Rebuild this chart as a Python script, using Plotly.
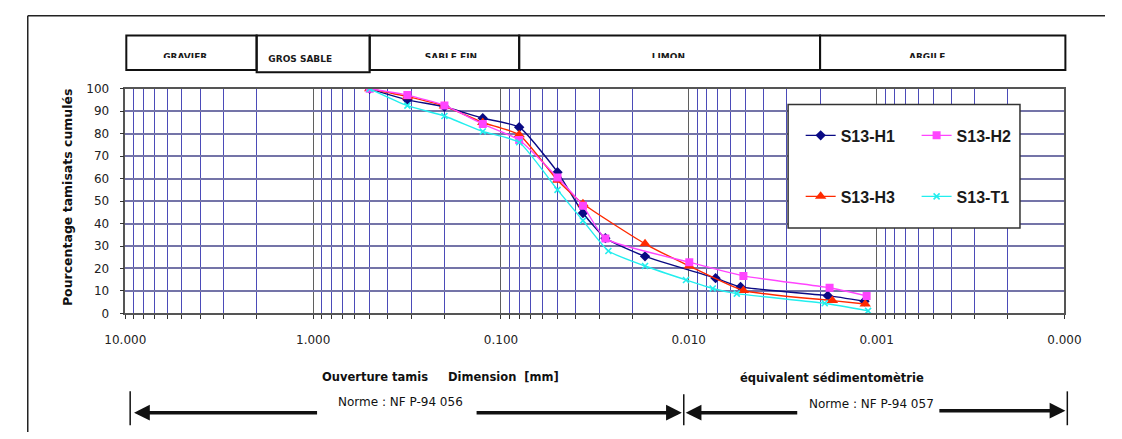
import math
import plotly.graph_objects as go

W, H = 1122, 439

# ---------------- data ----------------
series_names = ["S13-H1", "S13-H2", "S13-H3", "S13-T1"]

h1_x = [0.5, 0.315, 0.2, 0.125, 0.08, 0.05, 0.0366, 0.0278, 0.0171, 0.0072, 0.0053, 0.00182, 0.00116]
h1_y = [100, 95.1, 92.0, 86.9, 82.9, 62.9, 44.7, 33.5, 25.4, 15.7, 11.8, 7.9, 5.4]

h2_x = [0.5, 0.315, 0.2, 0.125, 0.08, 0.05, 0.0366, 0.0278, 0.00994, 0.00512, 0.00178, 0.00113]
h2_y = [100, 97.2, 92.6, 84.3, 77.2, 60.5, 47.9, 33.3, 22.8, 16.7, 11.4, 7.8]

h3_x = [0.5, 0.315, 0.2, 0.125, 0.08, 0.05, 0.0366, 0.0171, 0.00994, 0.00512, 0.00172, 0.00115]
h3_y = [100, 96.5, 92.3, 85.0, 79.6, 59.3, 48.8, 31.0, 21.1, 10.2, 5.7, 4.2]

t1_x = [0.5, 0.315, 0.2, 0.125, 0.08, 0.05, 0.0366, 0.0268, 0.0171, 0.01035, 0.00746, 0.00555, 0.00189, 0.00111]
t1_y = [100, 92.5, 87.9, 81.0, 76.2, 55.0, 41.3, 27.8, 21.1, 14.9, 11.1, 8.8, 4.5, 1.1]

decade_ticks = [10, 1, 0.1, 0.01, 0.001, 0.0001]
decade_labels = ["10.000", "1.000", "0.100", "0.010", "0.001", "0.000"]
y_ticks = list(range(0, 101, 10))

zone_names = ["GRAVIER", "GROS SABLE", "SABLE FIN", "LIMON", "ARGILE"]
zone_bounds = [10, 2, 0.5, 0.08, 0.002, 0.0001]

y_title = "Pourcentage tamisats cumulés"
x_title_left = "Ouverture tamis"
x_title_mid = "Dimension  [mm]"
x_title_right = "équivalent sédimentomètrie"
norm_left = "Norme : NF P-94 056"
norm_right = "Norme : NF P-94 057"

# ---------------- geometry (pixels) ----------------
PX0, PX1 = 108, 1080      # plot area left/right
PY0, PY1 = 84.5, 316.5    # plot area top/bottom


def px(v):
    return PX0 + (1 - math.log10(v)) * (PX1 - PX0) / 5.0


minor_vals = []
for e in range(1, -5, -1):
    for m in range(2, 10):
        v = m * 10 ** (e - 1)
        if 0.0001 < v < 10:
            minor_vals.append(v)

LABEL_FONT = "DejaVu Sans"

fig = go.Figure()

styles = [
    dict(color="#0a0a84", symbol="diamond", size=8, lw=1.4),
    dict(color="#ff44ff", symbol="square", size=8, lw=1.4),
    dict(color="#ff2a00", symbol="triangle-up", size=10, lw=1.4),
    dict(color="#22eeee", symbol="x-thin", size=6, lw=1.4),
]
data = [(h1_x, h1_y), (h2_x, h2_y), (h3_x, h3_y), (t1_x, t1_y)]
legend_ids = ["legend", "legend2", "legend3", "legend4"]
order = [0, 2, 1, 3]
for i in order:
    st = styles[i]
    xs, ys = data[i]
    marker = dict(color=st["color"], symbol=st["symbol"], size=st["size"])
    if st["symbol"] == "x-thin":
        marker["line"] = dict(color=st["color"], width=1.6)
    fig.add_trace(go.Scatter(
        x=xs, y=ys, name=series_names[i], mode="lines+markers",
        line=dict(color=st["color"], width=st["lw"], shape="spline", smoothing=0.5),
        marker=marker, legend=legend_ids[i], hoverinfo="skip",
    ))

# clipped zone labels as text marks in pixel space
zone_label_x = [170, 289, 445, 670, 938]
zone_label_y = [52.5, 54.7, 52.5, 52.5, 52.5]
fig.add_trace(go.Scatter(
    x=zone_label_x, y=zone_label_y, text=zone_names, mode="text",
    textposition="middle center", xaxis="x2", yaxis="y2",
    textfont=dict(family=LABEL_FONT, size=9, color="#1a1a1a", weight="bold"),
    showlegend=False, cliponaxis=False, hoverinfo="skip",
))

shapes = []
# outer frame (chart area border)
shapes.append(dict(type="line", xref="x2", yref="y2", x0=7, x1=W + 5, y0=9, y1=9,
                   line=dict(color="#222", width=1.5), layer="above"))
shapes.append(dict(type="line", xref="x2", yref="y2", x0=7, x1=7, y0=9, y1=H + 5,
                   line=dict(color="#222", width=1.5), layer="above"))

# zone boxes: covers first (clip effect), then outlines
for i, name in enumerate(zone_names):
    x0 = px(zone_bounds[i]) + (1 if i == 0 else 0)
    x1 = px(zone_bounds[i + 1]) + (1 if i == len(zone_names) - 1 else 0)
    if name != "GROS SABLE":
        shapes.append(dict(type="rect", xref="x2", yref="y2", x0=x0 + 1.5, x1=x1 - 1.5,
                           y0=52.8, y1=63.8, fillcolor="white", line=dict(width=0), layer="above"))
for i, name in enumerate(zone_names):
    x0 = px(zone_bounds[i]) + (1 if i == 0 else 0)
    x1 = px(zone_bounds[i + 1]) + (1 if i == len(zone_names) - 1 else 0)
    bottom = 67.5 if name == "GROS SABLE" else 65
    shapes.append(dict(type="rect", xref="x2", yref="y2", x0=x0, x1=x1, y0=29.5, y1=bottom,
                       fillcolor="rgba(0,0,0,0)", line=dict(color="#111", width=2), layer="above"))

# legend box
shapes.append(dict(type="rect", xref="x2", yref="y2", x0=794, x1=1034, y0=100.7, y1=228.3,
                   fillcolor="white", line=dict(color="#333", width=1.5), layer="above"))

# bars of the norm arrows
for bx, by0, by1 in [(113, 397, 432), (686, 400, 432), (1083, 397, 432)]:
    shapes.append(dict(type="line", xref="x2", yref="y2", x0=bx, x1=bx, y0=by0, y1=by1,
                       line=dict(color="#111", width=1.5), layer="above"))

annotations = []
# y-axis title
annotations.append(dict(x=47.5, y=196.5, xref="x2", yref="y2", text=y_title, textangle=-90,
                        showarrow=False, xanchor="center", yanchor="middle",
                        font=dict(family=LABEL_FONT, size=12.5, color="#111", weight="bold")))
for txt, x, y, bold, size in [
    (x_title_left, 366.5, 382, True, 11.5),
    (x_title_mid, 499.5, 382, True, 11.5),
    (x_title_right, 839, 383, True, 11.5),
    (norm_left, 393, 408, False, 12),
    (norm_right, 880.5, 410, False, 12),
]:
    annotations.append(dict(x=x, y=y, xref="x2", yref="y2", text=txt, showarrow=False,
                            xanchor="center", yanchor="middle",
                            font=dict(family=LABEL_FONT, size=size, color="#111",
                                      weight="bold" if bold else "normal")))

# arrows
for (hx, hy, tx, ty) in [(117, 419, 308, 419), (684, 419, 470, 419),
                         (688, 419, 805, 419), (1081, 417, 949, 417)]:
    annotations.append(dict(x=hx, y=hy, ax=tx, ay=ty, xref="x2", yref="y2", axref="x2", ayref="y2",
                            text="", showarrow=True, arrowhead=2, arrowsize=0.9, arrowwidth=3.5,
                            arrowcolor="#111", standoff=0, startstandoff=0))

legend_common = dict(orientation="v", bgcolor="rgba(0,0,0,0)", borderwidth=0,
                     font=dict(family="Liberation Sans", size=16, color="#1a1a1a", weight="bold"),
                     itemwidth=30, xanchor="left", yanchor="middle")

fig.update_layout(
    width=W, height=H, autosize=False,
    margin=dict(l=0, r=0, t=0, b=0),
    paper_bgcolor="white", plot_bgcolor="rgba(0,0,0,0)",
    showlegend=True,
    legend=dict(x=807 / W, y=1 - 132.7 / H, **legend_common),
    legend2=dict(x=927 / W, y=1 - 132.7 / H, **legend_common),
    legend3=dict(x=807 / W, y=1 - 195.7 / H, **legend_common),
    legend4=dict(x=927 / W, y=1 - 195.7 / H, **legend_common),
    xaxis=dict(
        type="log", range=[1, -4], autorange=False,
        domain=[PX0 / W, PX1 / W], anchor="y",
        tickmode="array", tickvals=decade_ticks, ticktext=decade_labels,
        ticks="outside", ticklen=4, tickcolor="#333", tickwidth=1,
        tickfont=dict(family=LABEL_FONT, size=12, color="#222"),
        ticklabelstandoff=10,
        showgrid=True, gridcolor="#5f5f5f", gridwidth=1.3,
        minor=dict(tickmode="array", tickvals=minor_vals, showgrid=True,
                   gridcolor="#4b4bb8", gridwidth=1, ticks="outside", ticklen=4,
                   tickcolor="#333"),
        showline=True, linecolor="#555", linewidth=1.5, mirror=True,
        zeroline=False, fixedrange=True,
    ),
    yaxis=dict(
        range=[0, 100], autorange=False,
        domain=[1 - PY1 / H, 1 - PY0 / H], anchor="x",
        tickmode="array", tickvals=y_ticks,
        ticks="outside", ticklen=4, tickcolor="#333",
        tickfont=dict(family=LABEL_FONT, size=12, color="#222"),
        ticklabelstandoff=8,
        showgrid=True, gridcolor="#7474a8", gridwidth=1.6,
        showline=True, linecolor="#555", linewidth=1.5, mirror=True,
        zeroline=False, fixedrange=True,
    ),
    xaxis2=dict(range=[0, W], domain=[0, 1], anchor="y2", visible=False, fixedrange=True),
    yaxis2=dict(range=[H, 0], domain=[0, 1], anchor="x2", visible=False, fixedrange=True),
    shapes=shapes,
    annotations=annotations,
)

fig.write_html("out.html")
